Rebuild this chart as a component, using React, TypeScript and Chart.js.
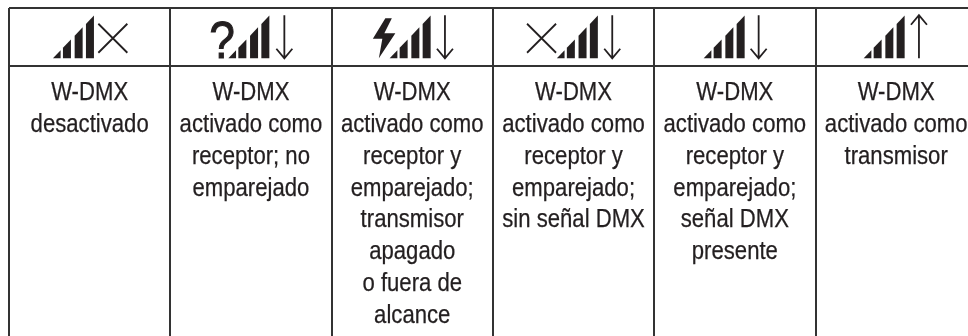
import React, { useEffect, useRef } from "react";
import { Chart, registerables } from "chart.js";

Chart.register(...registerables);

const columnTexts: string[][] = [
  ["W-DMX", "desactivado"],
  ["W-DMX", "activado como", "receptor; no", "emparejado"],
  ["W-DMX", "activado como", "receptor y", "emparejado;", "transmisor", "apagado", "o fuera de", "alcance"],
  ["W-DMX", "activado como", "receptor y", "emparejado;", "sin señal DMX"],
  ["W-DMX", "activado como", "receptor y", "emparejado;", "señal DMX", "presente"],
  ["W-DMX", "activado como", "transmisor"],
];

const columnIcons: string[][] = [
  ["bars", "cross"],
  ["question", "bars", "down"],
  ["bolt", "bars", "down"],
  ["cross", "bars", "down"],
  ["bars", "down"],
  ["bars", "up"],
];

const columnEdges = [0, 1, 2, 3, 4, 5];
const headerRowEdges = [-2.888, -1.08];
const iconBaselineRow = -1.31;

const INK = "#231f20";
const RULE = "#333333";
const COL_W = 161.3;
const LINE_H = 31.85;
const NARROW = 0.885;

// Offsets of each glyph from the icon anchor (cell centre, icon baseline), in px
const iconOffsets: Record<string, Record<string, number>>[] = [
  { bars: { x: -36.7 }, cross: { x: 23.2 } },
  { question: { x: -29 }, bars: { x: -22.6 }, down: { x: 33.4 } },
  { bolt: { x: -39.4 }, bars: { x: -22.6 }, down: { x: 32.7 } },
  { cross: { x: -32 }, bars: { x: -16.7 }, down: { x: 38.7 } },
  { bars: { x: -31.2 }, down: { x: 23.8 } },
  { bars: { x: -32.5 }, up: { x: 22.8 } },
];

function narrowText(ctx: CanvasRenderingContext2D, text: string, x: number, y: number, font: string, edge: number) {
  ctx.save();
  ctx.translate(x, y);
  ctx.scale(NARROW, 1);
  ctx.font = font;
  ctx.textAlign = "center";
  ctx.textBaseline = "alphabetic";
  ctx.fillStyle = INK;
  ctx.fillText(text, 0, 0);
  if (edge > 0) {
    ctx.strokeStyle = INK;
    ctx.lineWidth = edge;
    ctx.strokeText(text, 0, 0);
  }
  ctx.restore();
}

function drawBars(ctx: CanvasRenderingContext2D, ox: number, oy: number) {
  const slope = 1.04;
  const spans = [[0, 7.7], [10, 18], [21.7, 29.7], [33, 41]];
  ctx.fillStyle = INK;
  spans.forEach(([a, b], i) => {
    ctx.beginPath();
    ctx.moveTo(ox + a, oy);
    ctx.lineTo(ox + b, oy);
    ctx.lineTo(ox + b, oy - b * slope);
    ctx.lineTo(ox + a, oy - (i === 0 ? 0 : a * slope));
    ctx.closePath();
    ctx.fill();
  });
}

function drawCross(ctx: CanvasRenderingContext2D, cx: number, oy: number) {
  ctx.strokeStyle = INK;
  ctx.lineWidth = 1.8;
  ctx.beginPath();
  ctx.moveTo(cx - 14.5, oy - 34.5);
  ctx.lineTo(cx + 14.5, oy - 5.5);
  ctx.moveTo(cx + 14.5, oy - 34.5);
  ctx.lineTo(cx - 14.5, oy - 5.5);
  ctx.stroke();
}

function drawArrow(ctx: CanvasRenderingContext2D, x: number, oy: number, down: boolean) {
  const top = oy - 43;
  const bottom = oy;
  ctx.strokeStyle = INK;
  ctx.lineWidth = 1.8;
  ctx.beginPath();
  ctx.moveTo(x, top);
  ctx.lineTo(x, bottom);
  if (down) {
    ctx.moveTo(x - 8, bottom - 9.5);
    ctx.lineTo(x, bottom);
    ctx.lineTo(x + 8, bottom - 9.5);
  } else {
    ctx.moveTo(x - 8, top + 9.5);
    ctx.lineTo(x, top);
    ctx.lineTo(x + 8, top + 9.5);
  }
  ctx.stroke();
}

function drawBolt(ctx: CanvasRenderingContext2D, ox: number, oy: number) {
  const pts = [[12.5, -40], [0, -19.5], [9.5, -19.5], [6, 0], [22.5, -25], [11.5, -25], [19, -40]];
  ctx.fillStyle = INK;
  ctx.beginPath();
  pts.forEach(([dx, dy], i) => (i ? ctx.lineTo(ox + dx, oy + dy) : ctx.moveTo(ox + dx, oy + dy)));
  ctx.closePath();
  ctx.fill();
}

const tablePlugin = {
  id: "tableCells",
  afterDatasetsDraw(chart: any) {
    const ctx: CanvasRenderingContext2D = chart.ctx;
    ctx.save();
    chart.data.datasets.forEach((ds: any, di: number) => {
      const meta = chart.getDatasetMeta(di);
      meta.data.forEach((el: any, i: number) => {
        const raw = ds.data[i];
        if (raw.text) {
          narrowText(ctx, raw.text, el.x, el.y, '25px "Liberation Sans"', 0.25);
        }
        if (raw.icon) {
          const off = iconOffsets[raw.col];
          raw.icon.forEach((name: string) => {
            const x = el.x + off[name].x;
            if (name === "bars") drawBars(ctx, x, el.y);
            if (name === "cross") drawCross(ctx, x, el.y);
            if (name === "down") drawArrow(ctx, x, el.y, true);
            if (name === "up") drawArrow(ctx, x, el.y, false);
            if (name === "bolt") drawBolt(ctx, x, el.y);
            if (name === "question") {
              narrowText(ctx, "?", x, el.y - 0.5, '52px "Liberation Sans"', 1);
            }
          });
        }
      });
    });
    ctx.restore();
  },
};

export default function App() {
  const ref = useRef<HTMLCanvasElement>(null);
  useEffect(() => {
    const textSet = columnTexts.map((lines, col) => ({
      data: lines.map((text, row) => ({ x: col + 0.5, y: row, text })),
      pointRadius: 0,
      showLine: false,
    }));
    const iconSet = {
      data: columnIcons.map((icon, col) => ({ x: col + 0.5, y: iconBaselineRow, icon, col })),
      pointRadius: 0,
      showLine: false,
    };
    const chart = new Chart(ref.current!, {
      type: "scatter",
      data: { datasets: [...textSet, iconSet] as any },
      plugins: [tablePlugin as any],
      options: {
        responsive: false,
        animation: false,
        layout: { padding: { left: 9, top: 8, right: 0, bottom: 0 } },
        plugins: { legend: { display: false }, tooltip: { enabled: false } },
        scales: {
          x: {
            type: "linear",
            min: 0,
            max: (968 - 9) / COL_W,
            grid: { color: RULE, lineWidth: 2, drawTicks: false },
            border: { display: false },
            ticks: { display: false },
            afterBuildTicks: (s: any) => {
              s.ticks = columnEdges.map((value) => ({ value }));
            },
          },
          y: {
            type: "linear",
            reverse: true,
            min: headerRowEdges[0],
            max: headerRowEdges[0] + (336 - 8) / LINE_H,
            grid: { color: RULE, lineWidth: 2, drawTicks: false },
            border: { display: false },
            ticks: { display: false },
            afterBuildTicks: (s: any) => {
              s.ticks = headerRowEdges.map((value) => ({ value }));
            },
          },
        },
      },
    });
    return () => chart.destroy();
  }, []);
  return (
    <div style={{ position: "fixed", left: 0, top: 0, width: 968, height: 336, background: "#fff" }}>
      <canvas ref={ref} width={968} height={336} style={{ display: "block" }} />
    </div>
  );
}
